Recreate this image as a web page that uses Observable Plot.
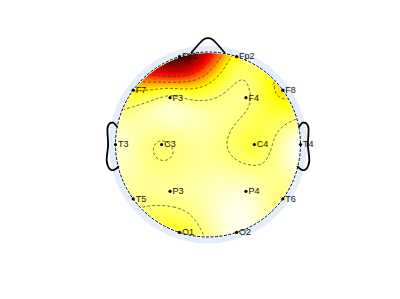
<!DOCTYPE html>
<html><head><meta charset="utf-8">
<script src="https://cdn.jsdelivr.net/npm/d3@7"></script>
<script src="https://cdn.jsdelivr.net/npm/@observablehq/plot@0.6"></script>
<style>html,body{margin:0;padding:0;background:#fff;} #chart{width:400px;height:299px;}</style>
</head><body><div id="chart"></div>
<script>
// Electrodes (10-20 system): labels, polar angle (deg, 0 = nose, + = right), radius (EEGLAB units)
const labels = ["Fp1","Fp2","F7","F3","F4","F8","T3","C3","C4","T4","T5","P3","P4","T6","O1","O2"];
const theta  = [-18, 18, -54, -39, 39, 54, -90, -90, 90, 90, -126, -141, 141, 126, -162, 162];
const radius = [0.511,0.511,0.511,0.333,0.333,0.511,0.511,0.256,0.256,0.511,0.511,0.333,0.333,0.511,0.511,0.511];
// Normalized potential at each electrode
const values = [0.85, -0.56, -0.45, -0.78, -0.76, -0.42, -0.90, -0.71, -0.62, -1.00, -0.78, -0.80, -0.90, -0.73, -0.56, -0.96];
// Contour levels
const contourLevels = [-0.73, -0.48, -0.23, 0.02, 0.27, 0.52];
// Colour map stops (inverted "hot")
const colorDomain = [-1, -0.5, 0.1, 1];
const colorRange = ["#ffffff", "#ffff00", "#ff0000", "#0a0000"];
// Head cartoon (EEGLAB geometry)
const noseX = [0.09, 0.02, 0, -0.02, -0.09];
const noseY = [0.4954, 0.57, 0.575, 0.57, 0.4954];
const earX = [0.492, 0.510, 0.518, 0.5299, 0.5419, 0.54, 0.547, 0.532, 0.510, 0.484];
const earY = [0.0955, 0.1175, 0.1183, 0.1146, 0.0955, -0.0055, -0.0932, -0.1313, -0.1384, -0.1199];

const W = 400, H = 299;
const headRad = 0.5, plotRad = 0.511;
const pxPerUnit = 185, cx = 207.5, cy = 144;
const ringPx = 99;

const sq = headRad / plotRad;
const electrodes = labels.map((label, i) => ({
  label,
  x: radius[i] * sq * Math.sin(theta[i] * Math.PI / 180),
  y: radius[i] * sq * Math.cos(theta[i] * Math.PI / 180),
  value: values[i]
}));
const nose = noseX.map((x, i) => ({x, y: noseY[i]}));
const earL = earX.map((x, i) => ({x: -x, y: earY[i]}));
const earR = earX.map((x, i) => ({x, y: earY[i]}));
const center = [{x: 0, y: 0}];

// Biharmonic spline (MATLAB griddata 'v4') as Plot interpolator
function makeV4(cellUnits) {
  return function(index, w, h, X, Y, V) {
    const n = index.length;
    const px = [], py = [], pv = [];
    for (const i of index) { px.push(X[i]); py.push(Y[i]); pv.push(V[i]); }
    const g = (d) => d === 0 ? 0 : d * d * (Math.log(d) - 1);
    const A = [];
    for (let i = 0; i < n; i++) {
      const row = [];
      for (let j = 0; j < n; j++) row.push(g(Math.hypot(px[i]-px[j], py[i]-py[j]) * cellUnits));
      row.push(pv[i]);
      A.push(row);
    }
    for (let c = 0; c < n; c++) {
      let p = c;
      for (let r = c + 1; r < n; r++) if (Math.abs(A[r][c]) > Math.abs(A[p][c])) p = r;
      [A[c], A[p]] = [A[p], A[c]];
      for (let r = 0; r < n; r++) {
        if (r === c) continue;
        const f = A[r][c] / A[c][c];
        for (let k = c; k <= n; k++) A[r][k] -= f * A[c][k];
      }
    }
    const wts = A.map((row, i) => row[n] / row[i]);
    const out = new Float64Array(w * h);
    for (let j = 0; j < h; j++) for (let i = 0; i < w; i++) {
      let s = 0;
      for (let k = 0; k < n; k++) s += wts[k] * g(Math.hypot(i + 0.5 - px[k], j + 0.5 - py[k]) * cellUnits);
      out[j * w + i] = s;
    }
    return out;
  };
}
const GRID = 67;
const v4 = makeV4(1 / GRID);

const plot = Plot.plot({
  width: W, height: H,
  marginTop: 0, marginRight: 0, marginBottom: 0, marginLeft: 0,
  x: {domain: [-cx / pxPerUnit, (W - cx) / pxPerUnit], axis: null},
  y: {domain: [-(H - cy) / pxPerUnit, cy / pxPerUnit], axis: null},
  color: {type: "linear", domain: colorDomain, range: colorRange, interpolate: "rgb", clamp: true},
  style: {background: "white"},
  marks: [
    Plot.dot(center, {x: "x", y: "y", r: ringPx, fill: "#e4eefa"}),
    Plot.raster(electrodes, {x: "x", y: "y", fill: "value", x1: -0.5, x2: 0.5, y1: -0.5, y2: 0.5,
      width: GRID, height: GRID, interpolate: v4}),
    Plot.contour(electrodes, {x: "x", y: "y", value: "value", x1: -0.6, x2: 0.6, y1: -0.6, y2: 0.6,
      width: 80, height: 80, interpolate: makeV4(1.2 / 80), thresholds: contourLevels,
      fill: "none", stroke: "#333", strokeWidth: 0.7, strokeDasharray: "3,2"}),
    Plot.dot(center, {x: "x", y: "y", r: headRad * pxPerUnit, fill: "none", stroke: "white", strokeWidth: 2}),
    Plot.dot(center, {x: "x", y: "y", r: headRad * pxPerUnit, fill: "none", stroke: "black", strokeWidth: 1, strokeDasharray: "3,1.5"}),
    Plot.line(nose, {x: "x", y: "y", stroke: "black", strokeWidth: 1.6, curve: "catmull-rom"}),
    Plot.line(earL, {x: "x", y: "y", stroke: "black", strokeWidth: 1.8, curve: "catmull-rom"}),
    Plot.line(earR, {x: "x", y: "y", stroke: "black", strokeWidth: 1.8, curve: "catmull-rom"}),
    Plot.dot(electrodes, {x: "x", y: "y", r: 1.6, fill: "black"}),
    Plot.text(electrodes, {x: "x", y: "y", text: "label", textAnchor: "start", dx: 2.5, fontSize: 9,
      fill: "#111", fontFamily: "Liberation Sans, Arial, sans-serif"})
  ]
});

// clip the map and contours to the head circle
const sx = plot.scale("x"), sy = plot.scale("y");
const ccx = sx.apply(0), ccy = sy.apply(0), cr = sx.apply(headRad) - ccx;
const svg = d3.select(plot);
const defs = svg.insert("defs", ":first-child");
defs.append("clipPath").attr("id", "headclip").append("circle").attr("cx", ccx).attr("cy", ccy).attr("r", cr);
svg.selectAll('g[aria-label="raster"], g[aria-label="contour"]').attr("clip-path", "url(#headclip)");
document.getElementById("chart").appendChild(plot);
</script>
</body></html>
